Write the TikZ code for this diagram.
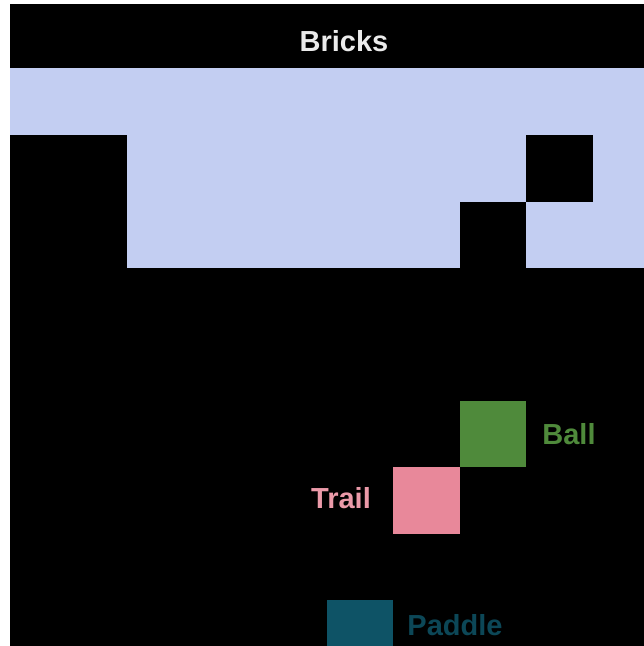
\documentclass[tikz,border=0pt]{standalone}
\usepackage{fontspec}
\setmainfont{Liberation Sans}
\definecolor{brickblue}{HTML}{C3CEF2}
\definecolor{ballgreen}{HTML}{4F8A3B}
\definecolor{trailpink}{HTML}{E8889A}
\definecolor{paddleteal}{HTML}{0E5366}
\tikzset{
  cell/.style={inner sep=0pt, minimum width=66.5pt, minimum height=66.5pt},
  hole/.style={fill=black},
  tag/.style={font=\bfseries\fontsize{29}{29}\selectfont, inner sep=0pt},
}

\begin{document}
\begin{tikzpicture}[x=1pt,y=-1pt]
\useasboundingbox (0,0) rectangle (644,646);
\fill[white] (0,0) rectangle (644,646);
\fill[black] (10,4) rectangle (644,646);
% brick wall
\fill[brickblue] (10,68) rectangle (644,268);
\fill[hole] (10,135) rectangle (127,268);
\fill[hole] (526,135) rectangle (592.5,202);
\fill[hole] (459.5,202) rectangle (526,268);
\node[tag, text=black!8] (bricks) at (344,41) {Bricks};
% ball, trail and paddle
\node[cell, fill=ballgreen] (ball) at (492.75,434) {};
\node[cell, fill=trailpink] (trail) at (426.25,500.5) {};
\node[cell, fill=paddleteal] (paddle) at (359.75,633) {};
\node[tag, text=ballgreen] (balltag) at (569,434) {Ball};
\node[tag, text=trailpink!85!white] (trailtag) at (341,498) {Trail};
\node[tag, text=paddleteal!85!black] (paddletag) at (455,625) {Paddle};
\end{tikzpicture}
\end{document}
